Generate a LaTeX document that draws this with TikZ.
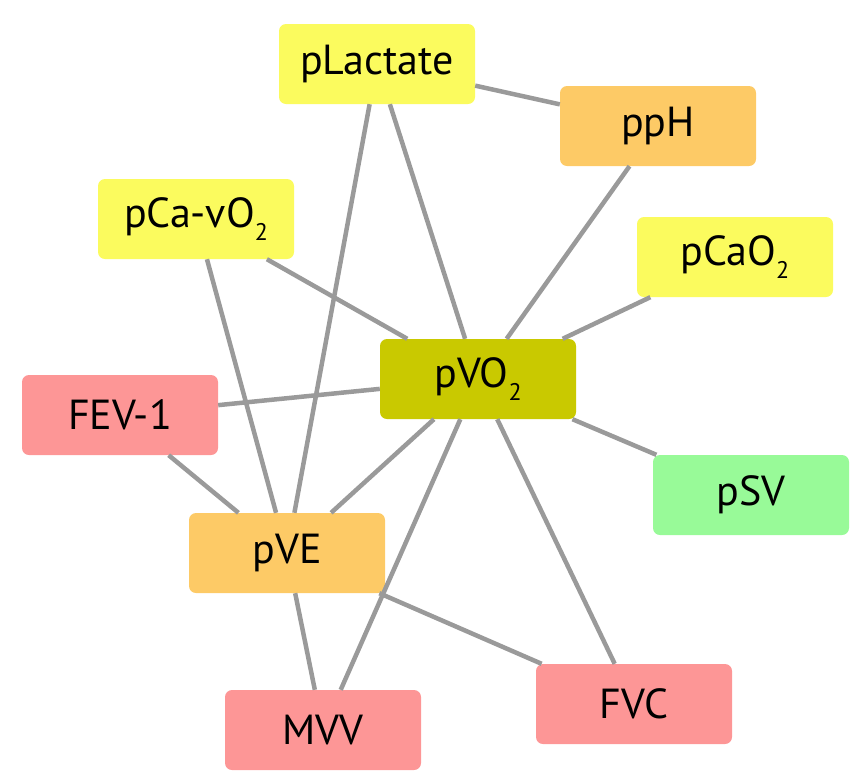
\documentclass[tikz,border=0pt]{standalone}
\usepackage{fontspec}
\setmainfont{PT Sans}
\usepackage{tikz}
\usepackage{xcolor}
\definecolor{boxyellow}{HTML}{FBFB5E}
\definecolor{boxorange}{HTML}{FDCA66}
\definecolor{boxolive}{HTML}{C9C900}
\definecolor{boxpink}{HTML}{FD9696}
\definecolor{boxgreen}{HTML}{98FA98}
\definecolor{linkgray}{HTML}{9A9A9A}
\newcommand{\subtwo}{\raisebox{-0.32em}{\fontsize{24}{24}\selectfont 2}}
\tikzset{
    var-box/.style = {rectangle, rounded corners=7pt, minimum width=196pt, minimum height=80pt, inner sep=0pt, font=\fontsize{42}{48}\selectfont},
    yellow-box/.style = {var-box, fill=boxyellow},
    orange-box/.style = {var-box, fill=boxorange},
    olive-box/.style = {var-box, fill=boxolive},
    pink-box/.style = {var-box, fill=boxpink},
    green-box/.style = {var-box, fill=boxgreen},
    link/.style = {draw=linkgray, line width=4.5pt},
}

\begin{document}
\begin{tikzpicture}[x=1pt, y=-1pt]
\useasboundingbox (0,0) rectangle (858,782);
\node [yellow-box] (lactate) at (377,64) {pLactate};
\node [orange-box] (ph) at (658,126) {ppH};
\node [yellow-box] (cavo) at (196,219) {pCa-vO\subtwo};
\node [yellow-box] (cao) at (735,257) {pCaO\subtwo};
\node [olive-box] (vo) at (478,379) {pVO\subtwo};
\node [pink-box] (fev) at (120,415) {FEV-1};
\node [green-box] (sv) at (751,495) {pSV};
\node [orange-box] (ve) at (287,553) {pVE};
\node [pink-box] (mvv) at (323,730) {MVV};
\node [pink-box] (fvc) at (634,704) {FVC};

\draw [link] (lactate) -- (ph);
\draw [link] (lactate) -- (ve);
\draw [link] (lactate) -- (vo);
\draw [link] (ph) -- (vo);
\draw [link] (cavo) -- (vo);
\draw [link] (cavo) -- (ve);
\draw [link] (cao) -- (vo);
\draw [link] (fev) -- (vo);
\draw [link] (sv) -- (vo);
\draw [link] (ve) -- (vo);
\draw [link] (mvv) -- (vo);
\draw [link] (fvc) -- (vo);
\draw [link] (fev) -- (ve);
\draw [link] (ve) -- (mvv);
\draw [link] (ve) -- (fvc);
\end{tikzpicture}
\end{document}
